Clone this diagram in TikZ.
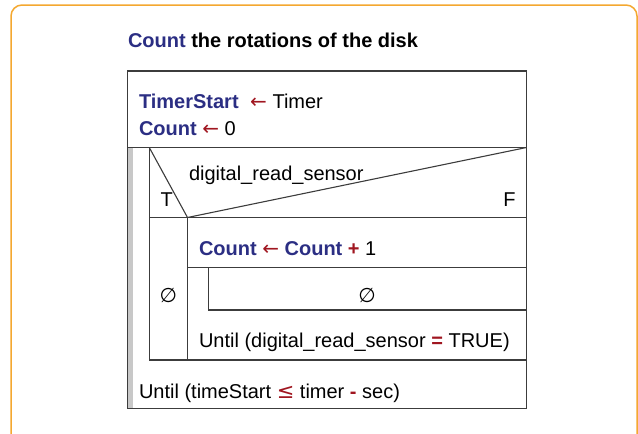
\documentclass[tikz,border=0pt]{standalone}
\usepackage{fontspec}
\setmainfont{Liberation Sans}
\newfontfamily\djv{DejaVu Sans}
\definecolor{kwblue}{RGB}{43,46,131}
\definecolor{opred}{RGB}{160,22,32}
\definecolor{frameorange}{RGB}{244,168,48}
\definecolor{linegray}{RGB}{60,60,60}
\definecolor{bargray}{RGB}{200,200,200}
\newcommand\kw[1]{\textbf{\textcolor{kwblue}{#1}}}
\newcommand\op[1]{\textbf{\textcolor{opred}{#1}}}
\newcommand\larr{{\djv\textcolor{opred}{←}}}
\newcommand\emptysym{{\djv ∅}}
\begin{document}
\begin{tikzpicture}[x=1pt,y=-1pt,
  txt/.style={inner sep=0pt,outer sep=0pt,font=\fontsize{20}{24}\selectfont,text=black},
  nsline/.style={draw=linegray,line width=1.1pt}]
\useasboundingbox (0,0) rectangle (638,434);
% orange frame
\begin{scope}
\clip (0,0) rectangle (638,434);
\draw[frameorange,line width=1.5pt,rounded corners=11pt] (11,5) rectangle (637,446);
\end{scope}
% gray bar
\fill[bargray] (128.3,148.3) rectangle (132.6,408);
% outer box
\draw[nsline] (127.5,71) rectangle (526.5,408.5);
\draw[nsline] (127.5,147.5) -- (526.5,147.5);
% inner repeat
\draw[nsline] (149.3,147.5) -- (149.3,360) -- (526.5,360);
% condition
\draw[nsline] (149.3,147.5) -- (187.5,217.5) -- (526.5,147.5);
\draw[nsline] (149.3,217.5) -- (526.5,217.5);
\draw[nsline] (187.5,217.5) -- (187.5,360);
\draw[nsline] (187.5,267.7) -- (526.5,267.7);
\draw[nsline] (208.7,267.7) -- (208.7,310) -- (526.5,310);
% texts
\node[txt,anchor=base west] (title) at (128,47) {\kw{Count} \textbf{the rotations of the disk}};
\node[txt,anchor=base west] (init1) at (139,108.3) {\kw{TimerStart}\hspace{6pt} \larr\ Timer};
\node[txt,anchor=base west] (init2) at (139,135) {\kw{Count} \larr\ 0};
\node[txt,anchor=base west] (cond) at (189,180) {digital\_read\_sensor};
\node[txt,anchor=base west] (tlab) at (160.7,206.7) {T};
\node[txt,anchor=base east] (flab) at (515.5,206.7) {F};
\node[txt,anchor=base west] (incr) at (199,255) {\kw{Count} \larr\ \kw{Count} \op{+} 1};
\node[txt,anchor=base] (empty1) at (168.3,302) {\emptysym};
\node[txt,anchor=base] (empty2) at (367,302) {\emptysym};
\node[txt,anchor=base west] (until1) at (199,347.7) {Until (digital\_read\_sensor \op{=} TRUE)};
\node[txt,anchor=base west] (until2) at (139,398) {Until (timeStart {\djv\fontsize{21}{24}\selectfont\textcolor{opred}{≤}} timer \op{-} sec)};
\end{tikzpicture}
\end{document}
